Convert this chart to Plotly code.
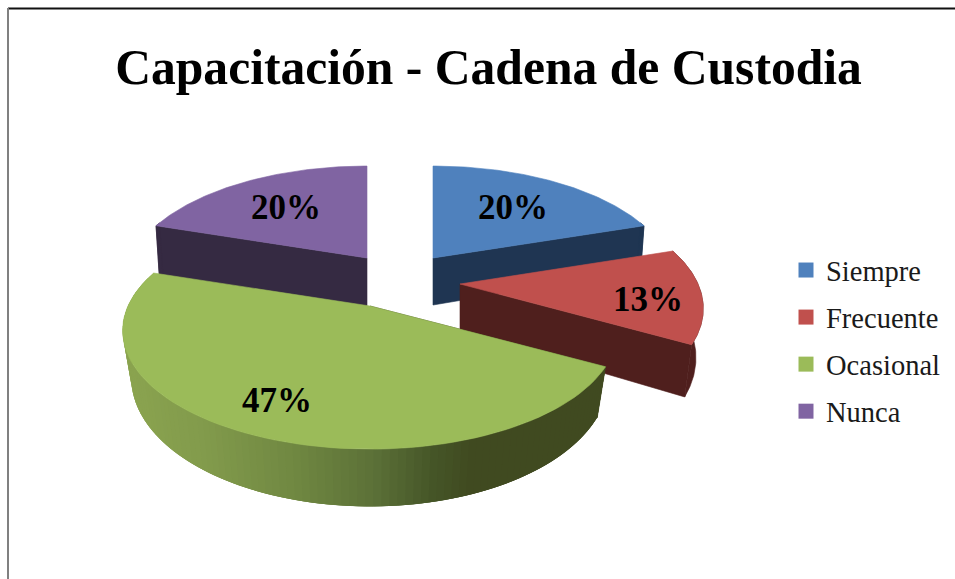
import numpy as np
import plotly.graph_objects as go

# ---- data ----
categories = ["Siempre", "Frecuente", "Ocasional", "Nunca"]
shares = [20, 13, 47, 20]
label_texts = ["20%", "13%", "47%", "20%"]
title_text = "Capacitación - Cadena de Custodia"

top_colors = ["#4F81BD", "#C0504D", "#9BBB59", "#8064A2"]
wall_colors = ["#1F3552", "#4F1F1D", "#404A20", "#352A42"]

# ---- projection of the tilted pie (perspective), one set per exploded slice ----
W, H = 955, 579
K = 0.207
#        apex        AX   BY     depth shrink
geom = {0: ((433, 258), 236, 111.0, 47.0, 0.985),
        1: ((460, 284), 238, 113.5, 47.0, 0.970),
        2: ((370, 306), 242, 113.5, 45.5, 0.965),
        3: ((367, 258), 236, 111.0, 52.0, 0.985)}
label_xy = {0: (513, 210), 1: (648, 302), 2: (277, 403), 3: (286, 210)}


def project(theta, i, r=1.0, bottom=False):
    _, ax, by, depth, shrink = geom[i]
    X, Y = r * np.sin(theta), r * np.cos(theta)
    d = 1 + K * Y
    dx, dy = ax * X / d, -by * Y / d
    if bottom:
        dx, dy = dx * shrink, dy + depth / d
    return dx, dy


def closed(xs, ys):
    return list(xs) + [xs[0]], list(ys) + [ys[0]]


def poly(xs, ys, color, name=None, width=0.6):
    xs, ys = closed(xs, ys)
    return go.Scatter(x=xs, y=ys, mode="lines", fill="toself", fillcolor=color,
                      line=dict(color=color, width=width), hoverinfo="skip",
                      showlegend=False, name=name)


def green_wall_color(x):
    stops = [(125, (139, 164, 80)), (200, (130, 155, 76)), (290, (112, 136, 66)),
             (370, (92, 113, 56)), (430, (70, 86, 40)), (470, (64, 74, 32)), (610, (64, 74, 32))]
    xs = [s[0] for s in stops]
    rgb = [int(np.interp(x, xs, [s[1][i] for s in stops])) for i in range(3)]
    return f"rgb({rgb[0]},{rgb[1]},{rgb[2]})"


total = sum(shares)
edges = np.cumsum([0] + shares) / total * 2 * np.pi
fig = go.Figure()
for i in [3, 0, 1, 2]:
    a0, a1 = edges[i], edges[i + 1]
    cx, cy = geom[i][0]
    th = np.linspace(a0, a1, 80)
    side = a1 if i in (0, 1) else a0
    tx, ty = project(side, i)
    bx, by = project(side, i, bottom=True)
    ox, oy = project(side, i, r=0.0, bottom=True)
    fig.add_trace(poly([cx, cx + tx, cx + bx, cx + ox], [cy, cy + ty, cy + by, cy + oy], wall_colors[i]))
    front = th[np.cos(th) < 0.35]
    if len(front) > 1:
        if i == 2:
            fine = np.linspace(front[-1], front[0], 110)
            step = fine[1] - fine[0]
            for t0 in fine[:-1]:
                t = np.linspace(t0, max(t0 + 3 * step, front[0]), 5)
                xt, yt = project(t, i)
                xb, yb = project(t[::-1], i, bottom=True)
                fig.add_trace(poly(np.r_[cx + xt, cx + xb], np.r_[cy + yt, cy + yb],
                                   green_wall_color(cx + xt[0]), width=0))
        else:
            xt, yt = project(front, i)
            xb, yb = project(front[::-1], i, bottom=True)
            fig.add_trace(poly(np.r_[cx + xt, cx + xb], np.r_[cy + yt, cy + yb], wall_colors[i]))
    xt, yt = project(th, i)
    fig.add_trace(poly(np.r_[cx, cx + xt], np.r_[cy, cy + yt], top_colors[i], name=categories[i]))

for i, c in enumerate(categories):
    fig.add_trace(go.Scatter(x=[None], y=[None], mode="markers", name=c,
                             legendgroup=c,
                             marker=dict(symbol="square", size=15, color=top_colors[i])))

serif = "Liberation Serif"
fig.add_trace(go.Scatter(
    x=[label_xy[i][0] for i in range(4)], y=[label_xy[i][1] for i in range(4)],
    mode="text", text=[f"<b>{t}</b>" for t in label_texts], showlegend=False, hoverinfo="skip",
    textfont=dict(family=serif, size=35, color="black")))

fig.update_layout(
    width=W, height=H, autosize=False,
    margin=dict(l=0, r=0, t=0, b=0),
    paper_bgcolor="white", plot_bgcolor="white",
    xaxis=dict(range=[0, W], visible=False, fixedrange=True),
    yaxis=dict(range=[H, 0], visible=False, fixedrange=True),
    title=dict(text=f"<b>{title_text}</b>", x=488.5 / W, xanchor="center", y=1 - 67 / H, yanchor="middle",
               font=dict(family=serif, size=49.6, color="black")),
    legend=dict(x=786 / W, y=1 - 245 / H, xanchor="left", yanchor="top",
                font=dict(family=serif, size=28.5, color="#1a1a1a"),
                tracegroupgap=7, bgcolor="rgba(0,0,0,0)", itemclick=False, itemdoubleclick=False),
    shapes=[
        dict(type="line", x0=8, x1=W, y0=8.5, y1=8.5, line=dict(color="#111111", width=2)),
        dict(type="line", x0=8, x1=8, y0=8, y1=H, line=dict(color="#808080", width=2)),
    ],
)
fig.write_html("out.html", post_script="document.body.style.margin='0';",
               config={"displayModeBar": False})
